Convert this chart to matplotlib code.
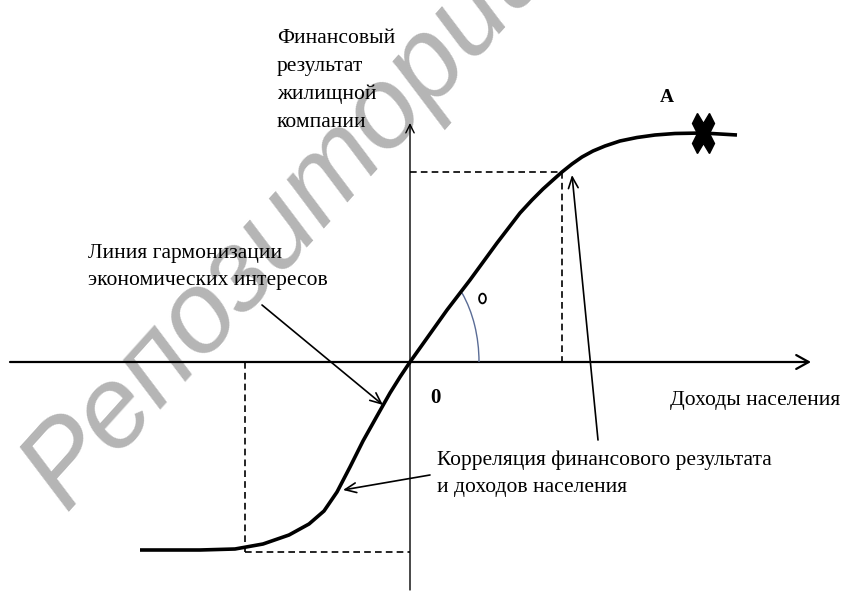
import matplotlib.pyplot as plt
from matplotlib.patches import Arc
from matplotlib.markers import MarkerStyle
from matplotlib.transforms import Affine2D

# кривая (начало координат в точке пересечения осей)
curve_x = [-270, -210, -175, -147, -121, -101, -86, -73, -60, -47, -33, -20, -10, 0,
           37, 60, 87, 110, 122, 133, 143, 152, 162, 172, 183, 195, 210, 227, 245,
           265, 293, 327]
curve_y = [-188, -188, -187, -182, -173, -162, -149, -130, -105, -79, -54, -31, -15, 0,
           52, 82, 119, 149, 162, 173, 182, 190, 198, 205, 211, 216, 221, 224.5, 227,
           228.5, 229, 227]

# оси
x_axis = [-400, 401]
y_axis = [-228, 239]

# пунктирные проекции
upper_x, upper_y = 152, 190
lower_x, lower_y = -165, -190

# точка A
point_a = (293, 229)
label_a = (257, 265)

# стрелки-выноски: (откуда, куда)
arrow_harm = ((-148, 57), (-27, -43))
arrow_corr = ((20, -113), (-67, -128))
arrow_point = ((188, -78), (162, 187))

label_y = 'Финансовый\nрезультат\nжилищной\nкомпании'
label_x = 'Доходы населения'
label_harm = 'Линия гармонизации\nэкономических интересов'
label_corr = 'Корреляция финансового результата\nи доходов населения'
watermark = 'Репозитории'

serif = 'Liberation Serif'
fs = 15.5

fig = plt.figure(figsize=(8.45, 5.92), dpi=100)
ax = fig.add_axes([0, 0, 1, 1])
ax.set_xlim(-410, 435)
ax.set_ylim(-230, 362)
ax.axis('off')

# водяной знак
ax.text(-344, -150, watermark, rotation=48, rotation_mode='anchor',
        ha='left', va='baseline', fontsize=83, style='italic',
        family='Liberation Sans', color='#b5b5b5', zorder=0)

# оси со стрелками
ax.annotate('', xy=(x_axis[1], 0), xytext=(x_axis[0], 0),
            arrowprops=dict(arrowstyle='->, head_length=0.9, head_width=0.5',
                            lw=1.6, color='black', shrinkA=0, shrinkB=0), zorder=3)
ax.annotate('', xy=(0, y_axis[1]), xytext=(0, y_axis[0]),
            arrowprops=dict(arrowstyle='->, head_length=0.6, head_width=0.3',
                            lw=1.0, color='black', shrinkA=0, shrinkB=0), zorder=3)

# пунктир
dash = (0, (4, 2.5))
ax.plot([0, upper_x], [upper_y, upper_y], color='black', lw=1.2, ls=dash, zorder=2)
ax.plot([upper_x, upper_x], [upper_y, 0], color='black', lw=1.2, ls=dash, zorder=2)
ax.plot([lower_x, lower_x], [0, lower_y], color='black', lw=1.2, ls=dash, zorder=2)
ax.plot([lower_x, 0], [lower_y, lower_y], color='black', lw=1.2, ls=dash, zorder=2)

# основная кривая
ax.plot(curve_x, curve_y, color='black', lw=2.6, solid_capstyle='butt',
        solid_joinstyle='round', zorder=4)

# угол
ax.add_patch(Arc((0, 0), 138, 210, theta1=0, theta2=53, color='#5a6c96', lw=1.0, zorder=3))
deg_marker = MarkerStyle('o', transform=Affine2D().scale(0.7, 1.0))
ax.plot([72], [64], marker=deg_marker, ms=7, mfc='white', mec='black', mew=1.3, zorder=4)

# точка A
x_marker = MarkerStyle('X', transform=Affine2D().scale(0.75, 1.3))
ax.plot([point_a[0]], [point_a[1]], marker=x_marker, ms=22, color='black', zorder=5)
ax.text(label_a[0], label_a[1], 'A', ha='center', va='center', fontsize=14,
        fontweight='bold', family=serif)

# выноски
for (start, end) in [arrow_harm, arrow_corr, arrow_point]:
    ax.annotate('', xy=end, xytext=start,
                arrowprops=dict(arrowstyle='->, head_length=0.8, head_width=0.35',
                                lw=1.2, color='black', shrinkA=0, shrinkB=0), zorder=4)

# подписи
ax.text(-133, 333, label_y, ha='left', va='top', fontsize=fs, family=serif, linespacing=1.62)
ax.text(-322, 95, label_harm, ha='left', va='center', fontsize=fs, family=serif, linespacing=1.62)
ax.text(27, -112, label_corr, ha='left', va='center', fontsize=fs, family=serif, linespacing=1.6)
ax.text(260, -38, label_x, ha='left', va='center', fontsize=fs, family=serif)
ax.text(25, -36, '0', ha='center', va='center', fontsize=15, fontweight='bold', family=serif)

fig.savefig('out.png', dpi=100)
